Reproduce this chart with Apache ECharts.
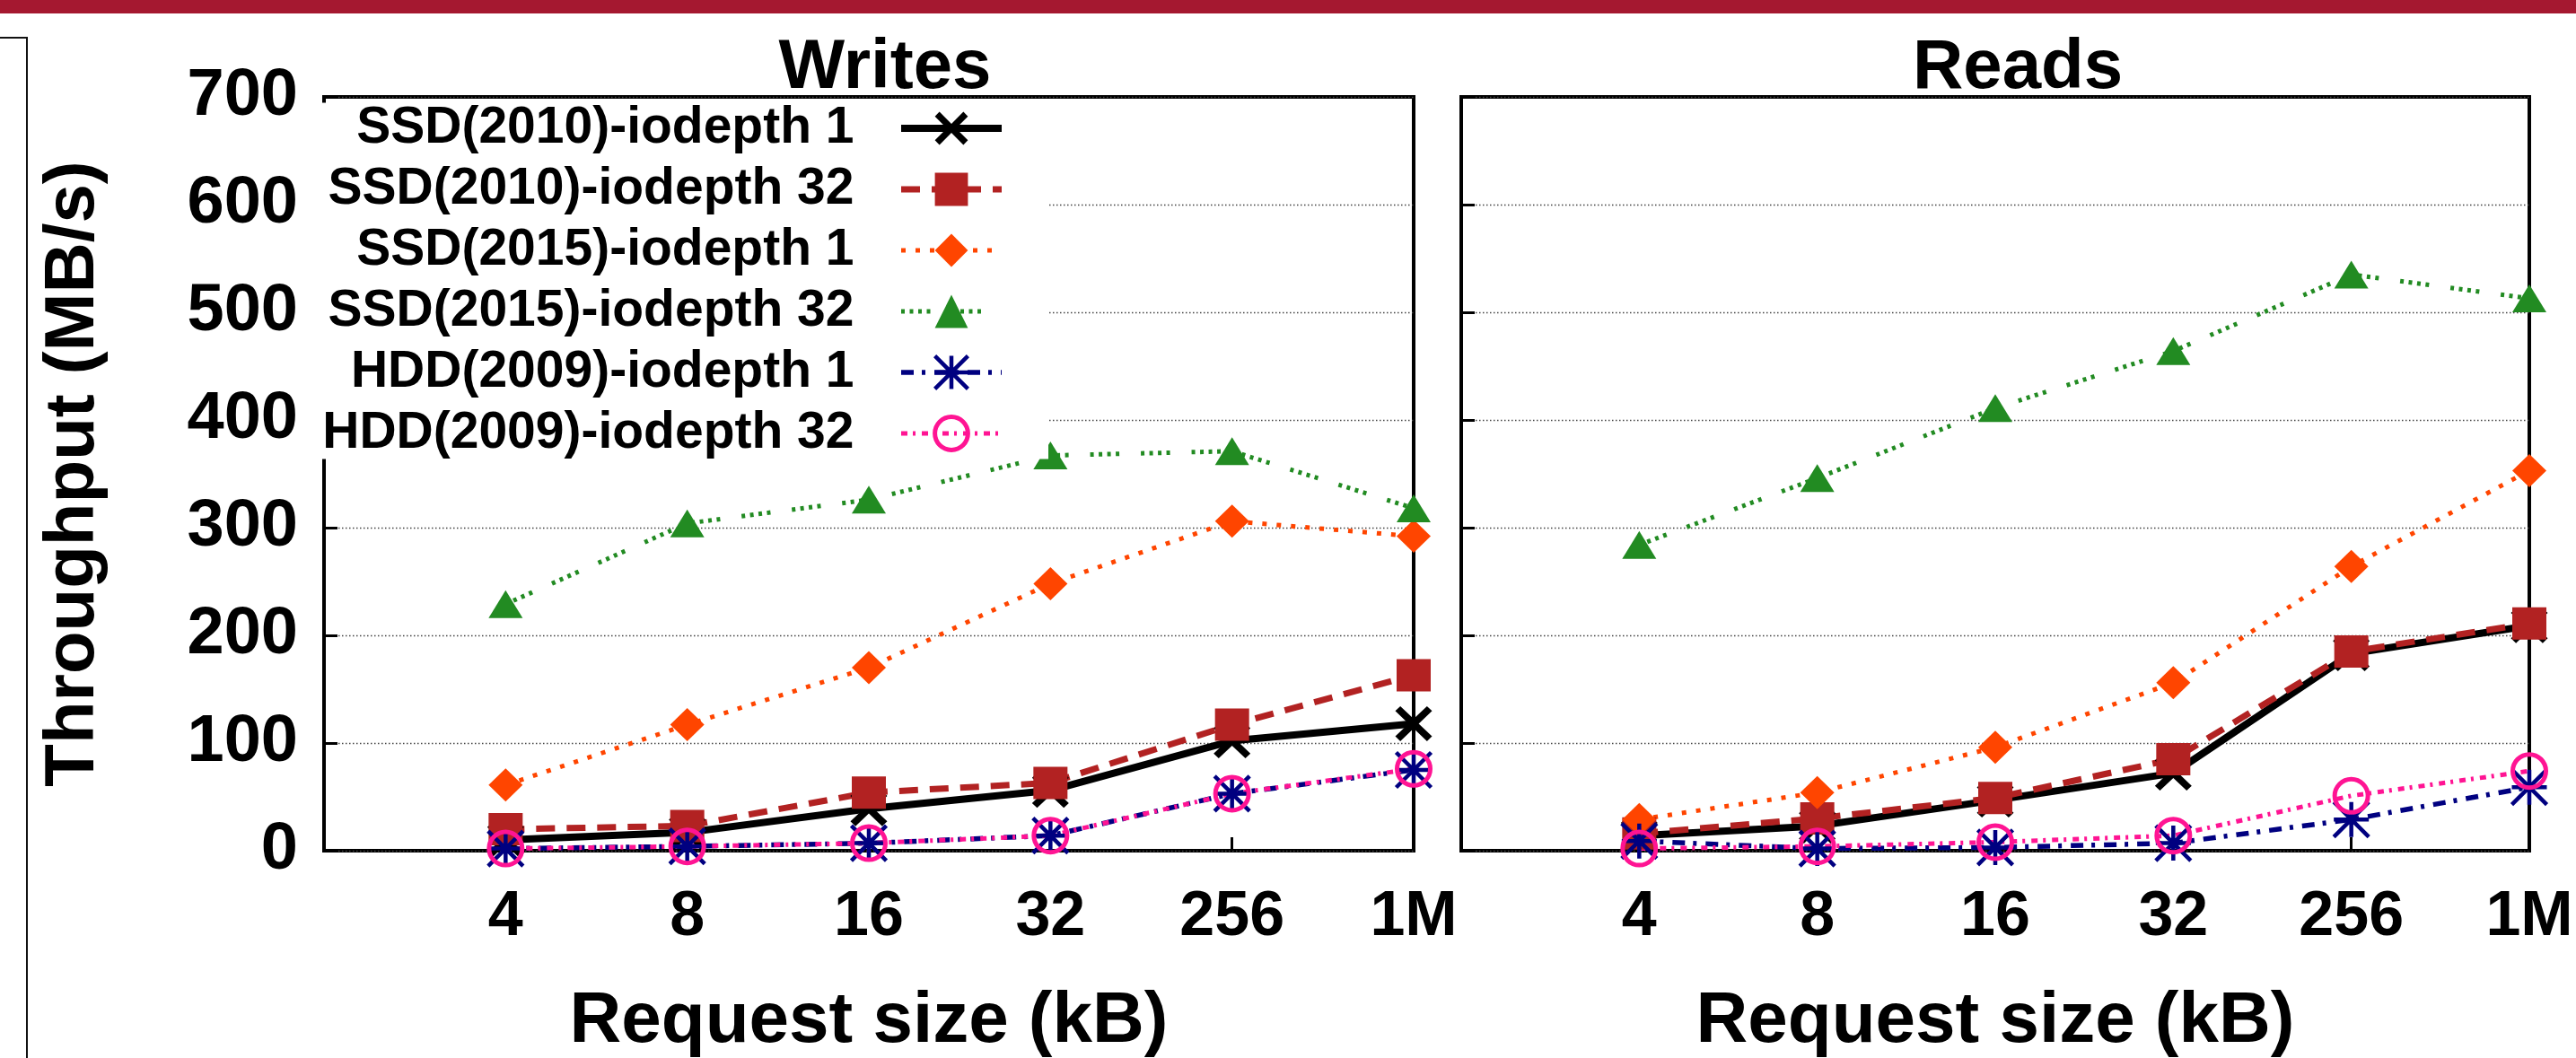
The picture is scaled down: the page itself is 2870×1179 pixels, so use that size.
<!DOCTYPE html>
<html>
<head>
<meta charset="utf-8">
<script src="https://cdn.jsdelivr.net/npm/echarts@6/dist/echarts.min.js"></script>
<style>
html,body{margin:0;padding:0;background:#fff;}
#chart{width:2870px;height:1179px;}
</style>
</head>
<body>
<div id="chart"></div>
<script>
// ---------- data ----------
const sizes = ['4', '8', '16', '32', '256', '1M'];
const seriesNames = [
  'SSD(2010)-iodepth 1',
  'SSD(2010)-iodepth 32',
  'SSD(2015)-iodepth 1',
  'SSD(2015)-iodepth 32',
  'HDD(2009)-iodepth 1',
  'HDD(2009)-iodepth 32'
];
const yMin = 0, yMax = 700, yStep = 100;

const writesSSD2010Q1  = [10, 17, 39, 56, 102, 118];
const writesSSD2010Q32 = [20, 23, 54, 63, 117, 163];
const writesSSD2015Q1  = [61, 117, 170, 248, 306, 292];
const writesSSD2015Q32 = [229, 304, 326, 367, 371, 318];
const writesHDDQ1      = [2, 4, 7, 14, 53, 75];
const writesHDDQ32     = [2, 4, 7, 14, 53, 76];

const readsSSD2010Q1   = [14, 23, 47, 72, 183, 209];
const readsSSD2010Q32  = [16, 30, 49, 85, 185, 211];
const readsSSD2015Q1   = [29, 54, 96, 156, 264, 353];
const readsSSD2015Q32  = [284, 346, 411, 464, 535, 513];
const readsHDDQ1       = [9, 2, 3, 7, 29, 59];
const readsHDDQ32      = [2, 4, 8, 14, 51, 74];

const writesData = [writesSSD2010Q1, writesSSD2010Q32, writesSSD2015Q1, writesSSD2015Q32, writesHDDQ1, writesHDDQ32];
const readsData  = [readsSSD2010Q1, readsSSD2010Q32, readsSSD2015Q1, readsSSD2015Q32, readsHDDQ1, readsHDDQ32];

// ---------- styles ----------
const FONT = '"Liberation Sans", Arial, Helvetica, sans-serif';
const X_PATH = 'path://M0,5.5L5.5,0L20,14.5L34.5,0L40,5.5L25.5,20L40,34.5L34.5,40L20,25.5L5.5,40L0,34.5L14.5,20Z';
const AST_PATH = 'path://M20,0L20,40M0,20L40,20M0,0L40,40M40,0L0,40';
const looks = [
  {color:'#000000', width:8,   type:'solid',                  symbol:X_PATH,    size:[41,39], fill:'#000000',       border:0},
  {color:'#B22222', width:7,   type:[21,13],                  symbol:'rect',    size:[38,36], fill:'#B22222',       border:0},
  {color:'#FF4500', width:5,   type:[5,11],                   symbol:'diamond', size:[38,37], fill:'#FF4500',       border:0},
  {color:'#228B22', width:5,   type:[4,5.5,4,5.5,4,5.5,4,24], symbol:'triangle',size:[38,31], fill:'#228B22',       border:0},
  {color:'#000080', width:5.5, type:[14,9,4,10],              symbol:AST_PATH,  size:[39,39], fill:'rgba(0,0,0,0)', border:4.5},
  {color:'#FF1493', width:5,   type:[7,6,3,7],                symbol:'circle',  size:[37,37], fill:'rgba(0,0,0,0)', border:5}
];

function makeSeries(vals, k, gi) {
  const L = looks[k];
  return {
    type: 'line',
    name: seriesNames[k],
    xAxisIndex: gi,
    yAxisIndex: gi,
    data: sizes.map((s, i) => [s, vals[i]]),
    symbol: L.symbol,
    symbolSize: L.size,
    showSymbol: true,
    showAllSymbol: true,
    clip: false,
    silent: true,
    animation: false,
    lineStyle: {color: L.color, width: L.width, type: L.type, cap: 'butt'},
    itemStyle: {color: L.fill, borderColor: L.color, borderWidth: L.border},
    emphasis: {disabled: true}
  };
}

const series = [];
writesData.forEach((d, k) => series.push(makeSeries(d, k, 0)));
readsData.forEach((d, k) => series.push(makeSeries(d, k, 1)));

function xAxisFor(gi) {
  return {
    type: 'category',
    gridIndex: gi,
    data: [''].concat(sizes),
    boundaryGap: false,
    axisLine: {show: false},
    axisTick: {show: true, inside: true, length: 15, interval: 0, lineStyle: {color: '#000', width: 3}},
    axisLabel: {interval: 0, margin: 40, fontSize: 70, fontWeight: 'bold', fontFamily: FONT, color: '#000'},
    splitLine: {show: false},
    name: 'Request size (kB)',
    nameLocation: 'middle',
    nameGap: 151,
    nameMoveOverlap: false,
    nameTextStyle: {fontSize: 80, fontWeight: 'bold', fontFamily: FONT, color: '#000'}
  };
}
function yAxisFor(gi) {
  const ax = {
    type: 'value',
    gridIndex: gi,
    min: yMin, max: yMax, interval: yStep,
    axisLine: {show: false},
    axisTick: {show: true, inside: true, length: 15, lineStyle: {color: '#000', width: 3}},
    axisLabel: {show: gi === 0, margin: 29, fontSize: 74, fontWeight: 'bold', fontFamily: FONT, color: '#000'},
    splitLine: {show: true, lineStyle: {color: '#444', width: 1.4, type: [1.5, 2.5]}}
  };
  if (gi === 0) {
    ax.name = 'Throughput (MB/s)';
    ax.nameLocation = 'middle';
    ax.nameRotate = 90;
    ax.nameGap = 240;
    ax.nameMoveOverlap = false;
    ax.nameTextStyle = {fontSize: 78, fontWeight: 'bold', fontFamily: FONT, color: '#000'};
  }
  return ax;
}

const chart = echarts.init(document.getElementById('chart'), null, {renderer: 'canvas'});
chart.setOption({
  animation: false,
  backgroundColor: '#ffffff',
  grid: [
    {left: 361, top: 108, width: 1214, height: 840, show: true, borderColor: '#000', borderWidth: 4, backgroundColor: 'transparent', containLabel: false, outerBoundsMode: 'none'},
    {left: 1628, top: 108, width: 1190, height: 840, show: true, borderColor: '#000', borderWidth: 4, backgroundColor: 'transparent', containLabel: false, outerBoundsMode: 'none'}
  ],
  xAxis: [xAxisFor(0), xAxisFor(1)],
  yAxis: [yAxisFor(0), yAxisFor(1)],
  legend: {
    data: seriesNames.map((n, i) => ({
      name: n,
      itemStyle: {borderWidth: looks[i].border},
      lineStyle: {width: looks[i].width, type: looks[i].type}
    })),
    orient: 'vertical',
    align: 'right',
    right: 1702,
    top: 114.5,
    itemWidth: 112,
    itemHeight: 46,
    itemGap: 11,
    padding: [0, 48, 0, 4],
    backgroundColor: '#ffffff',
    selectedMode: false,
    formatter: n => n + '   ',
    textStyle: {fontSize: 57, fontWeight: 'bold', fontFamily: FONT, color: '#000', lineHeight: 57}
  },
  graphic: [
    {type: 'rect', shape: {x: 0, y: 0, width: 2870, height: 15}, style: {fill: '#A51830'}, silent: true},
    {type: 'polyline', shape: {points: [[0, 42], [30, 42], [30, 1179]]}, style: {stroke: '#111', lineWidth: 2, fill: null}, silent: true},
    {type: 'text', style: {x: 986, y: 76, text: 'Writes', font: 'bold 78px ' + FONT, fill: '#000', textAlign: 'center', textVerticalAlign: 'middle'}, silent: true},
    {type: 'text', style: {x: 2248, y: 76, text: 'Reads', font: 'bold 78px ' + FONT, fill: '#000', textAlign: 'center', textVerticalAlign: 'middle'}, silent: true}
  ],
  series: series
});
</script>
</body>
</html>
